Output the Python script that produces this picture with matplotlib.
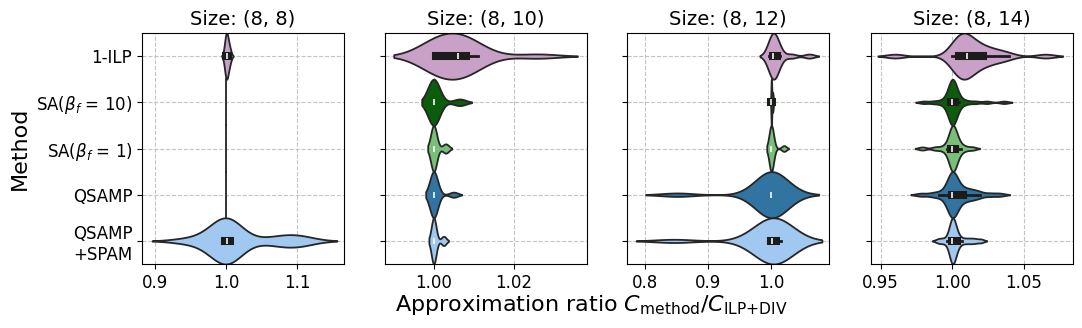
import numpy as np
import matplotlib
matplotlib.use("Agg")
import matplotlib.pyplot as plt
import seaborn as sns

methods = ["1-ILP", "SA($\\beta_f$ = 10)", "SA($\\beta_f$ = 1)", "QSAMP", "QSAMP\n+SPAM"]
colors = ["#c8a0c8", "#0b5c0b", "#78c078", "#3274a1", "#a0c8f0"]
sizes = ["(8, 8)", "(8, 10)", "(8, 12)", "(8, 14)"]

# approximation ratios (one list per method and size)
ilp_8x8 = [0.998, 0.999, 1.000, 1.000, 1.001, 1.001, 1.002, 1.003, 1.004, 1.006]
sa10_8x8 = [1.0] * 10
sa1_8x8 = [1.0] * 10
qsamp_8x8 = [1.0] * 10
spam_8x8 = [0.940, 0.965, 0.985, 0.998, 0.998, 0.999, 0.999, 1.000, 1.000, 1.000,
            1.001, 1.002, 1.003, 1.004, 1.004, 1.005, 1.060, 1.080, 1.090, 1.100, 1.112]

ilp_8x10 = [1.000, 1.000, 1.000, 1.000, 1.001, 1.003, 1.005, 1.006, 1.006, 1.007,
            1.008, 1.008, 1.009, 1.011, 1.026]
sa10_8x10 = [1.0] * 7 + [1.0065]
sa1_8x10 = [1.0] * 10 + [1.003, 1.003]
qsamp_8x10 = [1.0] * 9 + [1.005]
spam_8x10 = [1.0] * 10 + [1.0025, 1.0025]

ilp_8x12 = [0.997, 0.999, 1.000, 1.003, 1.003, 1.003, 1.003, 1.003, 1.004, 1.006,
            1.008, 1.010, 1.013, 1.032, 1.060]
sa10_8x12 = [0.9995, 1.0, 1.0, 1.0, 1.0, 1.0005, 1.001, 1.002, 1.0022, 1.003]
sa1_8x12 = [1.0] * 8 + [1.02]
qsamp_8x12 = [0.851, 0.985, 0.995] + [1.0] * 10 + [1.01, 1.025]
spam_8x12 = [0.846, 0.980, 0.995, 0.9995, 1.0, 1.0, 1.0, 1.0, 1.002, 1.004,
             1.006, 1.007, 1.008, 1.012, 1.016, 1.020]

ilp_8x14 = [0.960, 0.9997, 1.002, 1.003, 1.004, 1.004, 1.0045, 1.007, 1.008, 1.009,
            1.010, 1.010, 1.011, 1.012, 1.014, 1.016, 1.019, 1.0205, 1.023, 1.026,
            1.030, 1.034, 1.0394, 1.065]
sa10_8x14 = [0.980, 0.987, 0.992, 0.995, 0.997, 0.998, 0.999, 0.9993, 0.9995, 0.9998]
sa10_8x14 += [1.0] * 8
sa10_8x14 += [1.0005, 1.0008, 1.0012, 1.0015, 1.002, 1.003, 1.0045, 1.0065, 1.010,
              1.016, 1.024, 1.036]
sa1_8x14 = [0.979, 0.988, 0.993, 0.996, 0.998, 0.999, 0.9995] + [1.0] * 7
sa1_8x14 += [1.0005, 1.001, 1.0015, 1.002, 1.0025, 1.003, 1.004, 1.006, 1.009, 1.014]
qsamp_8x14 = [0.978, 0.986, 0.9904, 0.994, 0.997, 0.999, 0.9995, 0.9998] + [1.0] * 9
qsamp_8x14 += [1.001, 1.002, 1.003, 1.005, 1.007, 1.008, 1.010, 1.012, 1.014, 1.017,
               1.019, 1.026, 1.033]
spam_8x14 = [0.990, 0.993, 0.996, 0.998, 0.999, 0.9991, 0.9995] + [1.0] * 6
spam_8x14 += [1.0005, 1.001, 1.0015, 1.002, 1.0025, 1.003, 1.0045, 1.007, 1.010,
              1.013, 1.016, 1.020]

data = [
    [ilp_8x8, sa10_8x8, sa1_8x8, qsamp_8x8, spam_8x8],
    [ilp_8x10, sa10_8x10, sa1_8x10, qsamp_8x10, spam_8x10],
    [ilp_8x12, sa10_8x12, sa1_8x12, qsamp_8x12, spam_8x12],
    [ilp_8x14, sa10_8x14, sa1_8x14, qsamp_8x14, spam_8x14],
]

# kernel bandwidths (in ratio units) for each violin
bandwidths = [
    [0.002, None, None, None, 0.022],
    [0.005, 0.0015, 0.00075, 0.001, 0.0006],
    [0.0075, 0.0005, 0.0036, 0.025, 0.030],
    [0.006, 0.0028, 0.0025, 0.0035, 0.002],
]

xlims = [(0.8817, 1.166), (0.9878, 1.0384), (0.7715, 1.0913), (0.9432, 1.0842)]
xticks = [[0.9, 1.0, 1.1], [1.00, 1.02], [0.8, 0.9, 1.0], [0.95, 1.00, 1.05]]

fig = plt.figure(figsize=(10.82, 3.28), dpi=100)
lefts = [142, 385, 627, 871]

for i in range(4):
    ax = fig.add_axes([lefts[i] / 1082, 1 - 264 / 328, 202 / 1082, 231 / 328])
    for j, m in enumerate(methods):
        vals = np.array(data[i][j])
        bw = bandwidths[i][j]
        if bw is None:
            bw_method = "scott"
        else:
            bw_method = bw / np.std(vals, ddof=1)
        sns.violinplot(x=vals, y=[m] * len(vals), order=methods, orient="y",
                       color=colors[j], saturation=1, bw_method=bw_method, cut=2,
                       density_norm="width", width=1.0, inner="box",
                       inner_kws=dict(box_width=5.8, whis_width=2.0, color="#1c1c1c"),
                       linewidth=1.3, linecolor="#262626", ax=ax)
    ax.set_xlim(*xlims[i])
    ax.set_xticks(xticks[i])
    ax.set_ylim(len(methods) - 0.5, -0.5)
    ax.set_axisbelow(True)
    ax.grid(True, linestyle="--", color="#c4c4c4", linewidth=0.8)
    ax.tick_params(labelsize=12)
    ax.set_title("Size: " + sizes[i], fontsize=14)
    ax.set_xlabel("")
    if i == 0:
        ax.set_ylabel("Method", fontsize=16)
    else:
        ax.set_ylabel("")
        ax.set_yticklabels([])

fig.text(0.547, 0.07, "Approximation ratio $C_\\mathrm{method}/C_\\mathrm{ILP{+}DIV}$",
         ha="center", va="center", fontsize=16)

fig.savefig("out.png", dpi=100)
